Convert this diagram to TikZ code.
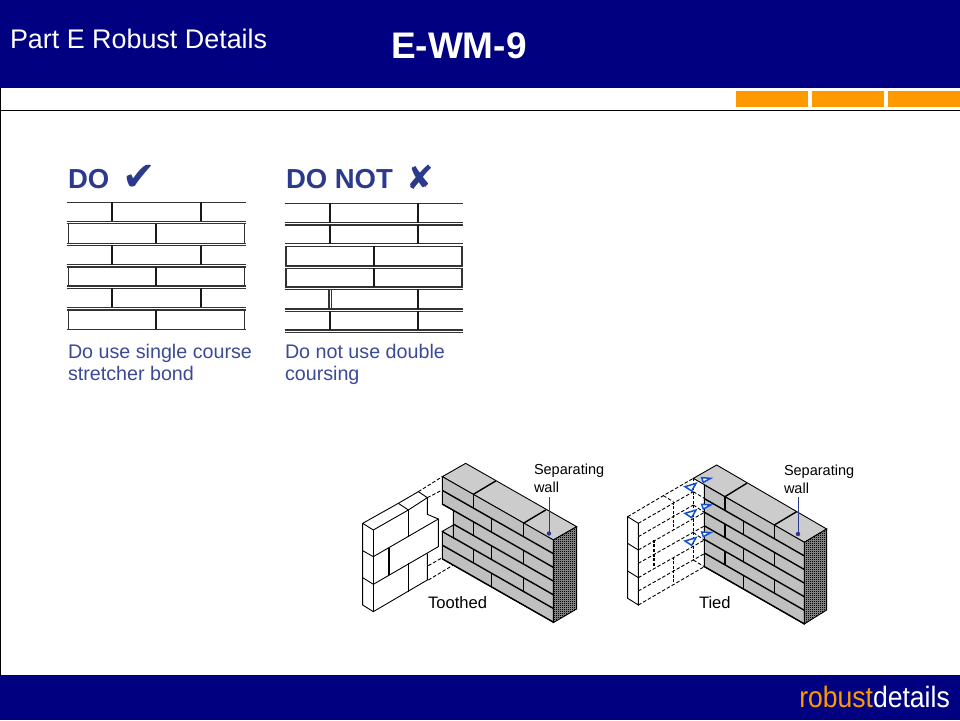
\documentclass[tikz,border=0pt]{standalone}
\usepackage{fontspec}
\usepackage{graphicx}
\setmainfont{Liberation Sans}
\newfontfamily\symfont{DejaVu Sans}
\usetikzlibrary{patterns}
\definecolor{navy}{HTML}{000080}
\definecolor{orangebar}{HTML}{FF9900}
\definecolor{dotitle}{HTML}{2B3A8C}
\definecolor{dotext}{HTML}{3C4A96}
\definecolor{topface}{HTML}{CCCCCC}
\definecolor{frontface}{HTML}{C0C0C0}
\definecolor{tieblue}{HTML}{1450D2}
\pgfdeclarepatternformonly{fineck}{\pgfqpoint{0pt}{0pt}}{\pgfqpoint{1.1pt}{1.1pt}}{\pgfqpoint{2pt}{2pt}}{\pgfpathrectangle{\pgfqpoint{0pt}{0pt}}{\pgfqpoint{1.1pt}{1.1pt}}\pgfusepath{fill}}
\tikzset{
  txt/.style={anchor=base west,inner sep=0pt,outer sep=0pt},
  course/.style={line width=1.7pt,draw=black!90},
  bed/.style={line width=1.4pt,draw=black!80},
  wallline/.style={line width=1.4pt,draw=black},
  thinline/.style={line width=0.9pt,draw=black},
  dsh/.style={line width=0.9pt,draw=black,dash pattern=on 3.5pt off 2pt},
  dshb/.style={line width=1.2pt,draw=black,dash pattern=on 3pt off 1.5pt},
  zoomT/.style={shift={(350,455)},x=0.3333pt,y=-0.3333pt},
  zoomK/.style={shift={(615,455)},x=0.3333pt,y=-0.3333pt},
  leader/.style={line width=0.9pt,draw=dotitle},
  tie/.style={line width=1.5pt,draw=tieblue,fill=white},
}
\newcommand{\openrow}[4]{%
  \draw[course] (#3,#1) -- (#3,#2) (#4,#1) -- (#4,#2);}
\newcommand{\boxrow}[5]{%
  \draw[bed] (#3,#1) rectangle (#4,#2);
  \draw[course] (#5,#1) -- (#5,#2);}
\newcommand{\hlines}[3]{\foreach \yy in {#3}{\draw[bed] (#1,\yy) -- (#2,\yy);}}
\begin{document}
\begin{tikzpicture}[x=1pt,y=-1pt]
\useasboundingbox (0,0) rectangle (960,720);
\fill[white] (0,0) rectangle (960,720);
% header and footer
\fill[navy] (0,0) rectangle (960,88);
\fill[navy] (0,675) rectangle (960,720);
\draw[line width=1pt] (0,110.5) -- (960,110.5);
\draw[line width=1pt] (0.5,88) -- (0.5,675);
\foreach \a in {736,812,888}{\fill[orangebar] (\a,91) rectangle (\a+72,107);}
\node[txt,text=white,font=\fontsize{26.9}{26.9}\selectfont] (parte) at (10,48) {Part E Robust Details};
\node[txt,text=white,font=\fontsize{37}{37}\selectfont\bfseries] (code) at (391,58) {E-WM-9};
\node[anchor=base east,inner sep=0pt,font=\fontsize{29.5}{29.5}\selectfont] (brand) at (950,707) {\scalebox{0.9}[1]{\textcolor{orangebar}{robust}\textcolor{white}{details}}};
% DO panel
\node[txt,text=dotitle,font=\fontsize{27.5}{27.5}\selectfont\bfseries] (do) at (68,188) {DO};
\node[txt,text=dotitle,font=\fontsize{40}{40}\selectfont\symfont] (check) at (122,190) {✔};
\hlines{66.7}{246}{202.3,221.3,223.7,243.3,245.7,264.7,267,286,288.3,307.3,310,329.3}
\openrow{202.3}{221.3}{112.3}{200.7}
\openrow{245.7}{264.7}{112.3}{200.7}
\openrow{288.3}{307.3}{112.3}{200.7}
\boxrow{223.7}{243.3}{68.7}{244.3}{156.3}
\boxrow{267}{286}{68.7}{244.3}{156.3}
\boxrow{310}{329.3}{68.7}{244.3}{156.3}
\node[txt,text=dotext,font=\fontsize{19.7}{19.7}\selectfont] (douse) at (68,358) {Do use single course};
\node[txt,text=dotext,font=\fontsize{19.7}{19.7}\selectfont] (douse2) at (68,380) {stretcher bond};
% DO NOT panel
\node[txt,text=dotitle,font=\fontsize{27.5}{27.5}\selectfont\bfseries] (donot) at (286,188) {DO NOT};
\node[txt,text=dotitle,font=\fontsize{33}{33}\selectfont\symfont] (cross) at (406,189) {✘};
\hlines{284.7}{463.3}{203.3,222.7,225,243.7,246.3,266,268.3,287,289.3,309,311.3,330,332.3}
\openrow{203.3}{222.7}{330}{418.3}
\openrow{225}{243.7}{330}{418.3}
\boxrow{246.3}{266}{286}{462}{374}
\boxrow{268.3}{287}{286}{462}{374}
\draw[bed] (329,289.3) -- (329,309) (331.5,289.3) -- (331.5,309);
\draw[course] (418.3,289.3) -- (418.3,309);
\openrow{311.3}{330}{330}{418.3}
\node[txt,text=dotext,font=\fontsize{19.7}{19.7}\selectfont] (dont) at (285,358) {Do not use double};
\node[txt,text=dotext,font=\fontsize{19.7}{19.7}\selectfont] (dont2) at (285,380) {coursing};
% TOOTHED
\begin{scope}[zoomT]
  \filldraw[thinline,fill=topface] (277,65) -- (347,25) -- (680,215) -- (610,255) -- cycle;
  \filldraw[thinline,fill=black!50] (610,255) -- (680,215) -- (680,462) -- (610,503) -- cycle;
  \fill[pattern=fineck,pattern color=black] (610,255) -- (680,215) -- (680,462) -- (610,503) -- cycle;
  \draw[wallline] (370,118) -- (437,78) (520,205) -- (587,165);
  \begin{scope}[shift={(277,65)},x={(0.3333pt,-0.19pt)},y={(0pt,-13.7pt)}]
    \filldraw[thinline,fill=frontface] (0,0) -- (333,0) -- (333,6) -- (0,6) -- (0,4) -- (33,4) -- (33,2) -- (0,2) -- cycle;
    \foreach \v in {1,2,4,5,6}{\draw[wallline] (0,\v) -- (333,\v);}
    \draw[wallline] (33,3) -- (333,3);
    \foreach \v in {0,2,4}{\draw[wallline] (93,\v) -- (93,\v+1) (243,\v) -- (243,\v+1);}
    \foreach \v in {1,3,5}{\draw[wallline] (148,\v) -- (148,\v+1);}
    \draw[thinline] (33,2) -- (33,4);
    \draw[thinline] (0,0) -- (0,2);
  \end{scope}
  \filldraw[thinline,fill=topface] (277,229) -- (310,248) -- (310,210) -- cycle;
  \draw[dsh] (205,110) -- (277,65) (232,128) -- (277,105) (235,332) -- (277,308) (235,375) -- (310,330);
  \draw[thinline,line join=round] (38,205) -- (145,145) -- (175,165) -- (70,225) -- cycle;
  \draw[thinline] (145,145) -- (205,110) -- (232,128) -- (175,165);
  \draw[thinline] (38,205) -- (38,450) -- (70,470) -- (232,375) -- (232,295);
  \draw[thinline] (70,225) -- (70,470);
  \draw[thinline] (232,128) -- (232,178) -- (265,192) -- (265,275) -- (70,388) -- (38,368);
  \draw[thinline] (38,287) -- (70,305) -- (265,192);
  \draw[wallline] (175,165) -- (175,245) (117,278) -- (117,360) (175,325) -- (175,410);
\end{scope}
\node[txt,font=\fontsize{14.5}{14.5}\selectfont] (sep1) at (534,474) {Separating};
\node[txt,font=\fontsize{14.5}{14.5}\selectfont] (sep1b) at (534,492) {wall};
\node[txt,font=\fontsize{16.6}{16.6}\selectfont] (tooth) at (428,608.5) {Toothed};
\coordinate (ta) at (549,497);
\coordinate (tb) at (549,533.5);
\draw[leader] (ta) -- (tb);
\fill[dotitle] (tb) circle (2.2pt);
% TIED
\begin{scope}[zoomK]
  \filldraw[thinline,fill=topface] (235,70) -- (305,30) -- (635,222) -- (568,262) -- cycle;
  \filldraw[thinline,fill=black!50] (568,262) -- (635,222) -- (635,465) -- (568,507) -- cycle;
  \fill[pattern=fineck,pattern color=black] (568,262) -- (635,222) -- (635,465) -- (568,507) -- cycle;
  \draw[wallline] (330,125) -- (395,85) (478,210) -- (545,170);
  \begin{scope}[shift={(268,90)},x={(0.3333pt,-0.191pt)},y={(0pt,-13.6pt)}]
    \filldraw[thinline,fill=frontface] (0,0) -- (300,0) -- (300,6) -- (0,6) -- cycle;
    \foreach \v in {1,...,6}{\draw[wallline] (0,\v) -- (300,\v);}
    \foreach \v in {0,2,4}{\draw[wallline] (62,\v) -- (62,\v+1) (210,\v) -- (210,\v+1);}
    \foreach \v in {1,3,5}{\draw[wallline] (117,\v) -- (117,\v+1);}
  \end{scope}
  \draw[thinline] (38,185) -- (38,430) -- (70,450) -- (70,205) -- cycle;
  \draw[thinline] (38,265) -- (70,285) (38,348) -- (70,368);
  \draw[dsh] (70,205) -- (235,110) (38,185) -- (145,122) -- (235,70);
  \draw[dsh] (70,245) -- (235,150) (70,285) -- (268,172) (70,325) -- (268,213);
  \draw[dsh] (70,368) -- (268,255) (70,408) -- (268,296) (70,450) -- (268,335);
  \draw[dsh] (145,122) -- (175,140);
  \draw[dshb] (175,140) -- (175,225) (117,255) -- (117,335) (175,305) -- (175,385);
  \draw[dshb] (235,70) -- (235,315);
  \draw[dsh] (235,315) -- (268,335);
  \draw[dsh] (235,110) -- (268,130) (235,150) -- (268,172) (235,233) -- (268,255);
  \foreach \dy in {0,80,163}{
    \draw[tie] (260,68+\dy) -- (287,70+\dy) -- (265,82+\dy) -- cycle;
    \draw[tie] (210,95+\dy) -- (243,85+\dy) -- (230,108+\dy) -- cycle;
  }
\end{scope}
\node[txt,font=\fontsize{14.5}{14.5}\selectfont] (sep2) at (784,475) {Separating};
\node[txt,font=\fontsize{14.5}{14.5}\selectfont] (sep2b) at (784,493) {wall};
\node[txt,font=\fontsize{16.6}{16.6}\selectfont] (tied) at (699,608.5) {Tied};
\coordinate (ka) at (798,497);
\coordinate (kb) at (798,534);
\draw[leader] (ka) -- (kb);
\fill[dotitle] (kb) circle (2.2pt);
\end{tikzpicture}
\end{document}
